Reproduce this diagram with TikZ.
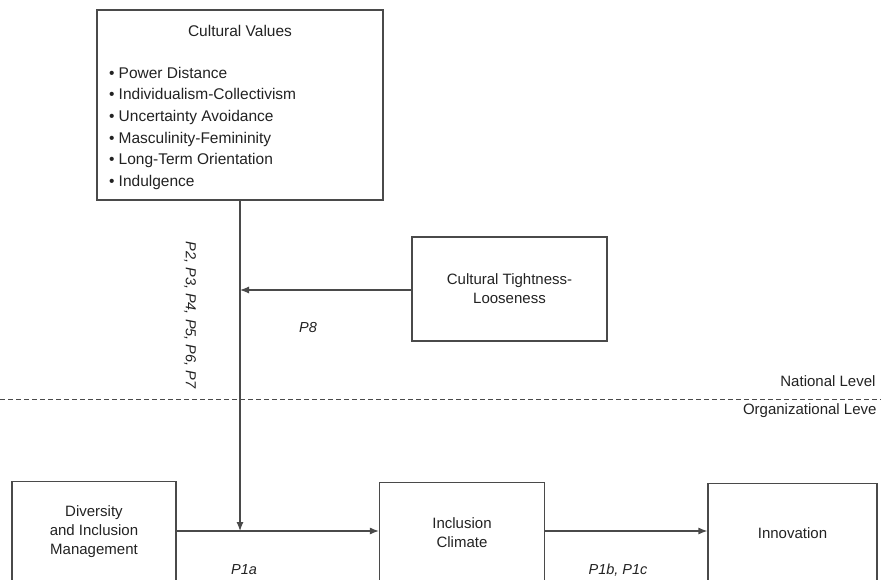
\documentclass[tikz,border=0pt]{standalone}
\usepackage{fontspec}
\setmainfont{Liberation Sans}
\usepackage{tikz}
\usetikzlibrary{arrows.meta}

\definecolor{linegray}{HTML}{4A4A4A}
\definecolor{textgray}{HTML}{222222}

\tikzset{
  box/.style={draw=linegray, line width=1.2pt, rectangle, align=center,
    text=textgray, inner sep=0pt},
  link/.style={draw=linegray, line width=1.2pt,
    -{Latex[length=9pt,width=7pt]}},
  plabel/.style={text=textgray, font=\fontsize{14.5}{19}\selectfont\itshape},
  level/.style={text=textgray, anchor=east}
}

\begin{document}
\begin{tikzpicture}[x=1pt,y=-1pt,font=\fontsize{15}{19}\selectfont]
    \useasboundingbox (0,0) rectangle (881,580);
    \clip (0,0) rectangle (881,580);
    % national level
    \node[box, minimum width=286pt, minimum height=190pt] (cv) at (240,105)
      {\parbox{262pt}{\fontsize{15.5}{21.6}\selectfont\vspace*{5pt}\centering Cultural Values\\[20pt]
        \raggedright \textbullet\ Power Distance\\
        \textbullet\ Individualism-Collectivism\\
        \textbullet\ Uncertainty Avoidance\\
        \textbullet\ Masculinity-Femininity\\
        \textbullet\ Long-Term Orientation\\
        \textbullet\ Indulgence}};
    \node[box, minimum width=195pt, minimum height=104pt] (ctl) at (509.5,289)
      {Cultural Tightness-\\Looseness};
    % organizational level
    \node[box, minimum width=164pt, minimum height=100pt, anchor=north] (dim) at (94,481)
      {Diversity\\and Inclusion\\Management};
    \node[box, minimum width=165pt, minimum height=100pt, anchor=north] (ic) at (462,482)
      {Inclusion\\Climate};
    \node[box, minimum width=169pt, minimum height=100pt, anchor=north] (inn) at (792.5,483)
      {Innovation};
    % level divider
    \draw[linegray, line width=1pt, dash pattern=on 5pt off 3pt] (0,399) -- (881,399);
    \node[level] (nat) at (879,381) {National Level};
    \node[level] (org) at (880,411) {Organizational Leve};
    % connectors
    \coordinate (m1) at (240,531);
    \coordinate (m2) at (240,290);
    \draw[link] (dim.east |- m1) -- (ic.west |- m1);
    \draw[link] (ic.east |- m1) -- (inn.west |- m1);
    \draw[link] (cv.south) -- (m1);
    \draw[link] (ctl.west |- m2) -- (m2);
    % labels
    \node[plabel, rotate=-90] (p27) at (190,315) {P2, P3, P4, P5, P6, P7};
    \node[plabel] (p8) at (308,328) {P8};
    \node[plabel] (p1a) at (244,570) {P1a};
    \node[plabel] (p1bc) at (618,570) {P1b, P1c};
\end{tikzpicture}
\end{document}
